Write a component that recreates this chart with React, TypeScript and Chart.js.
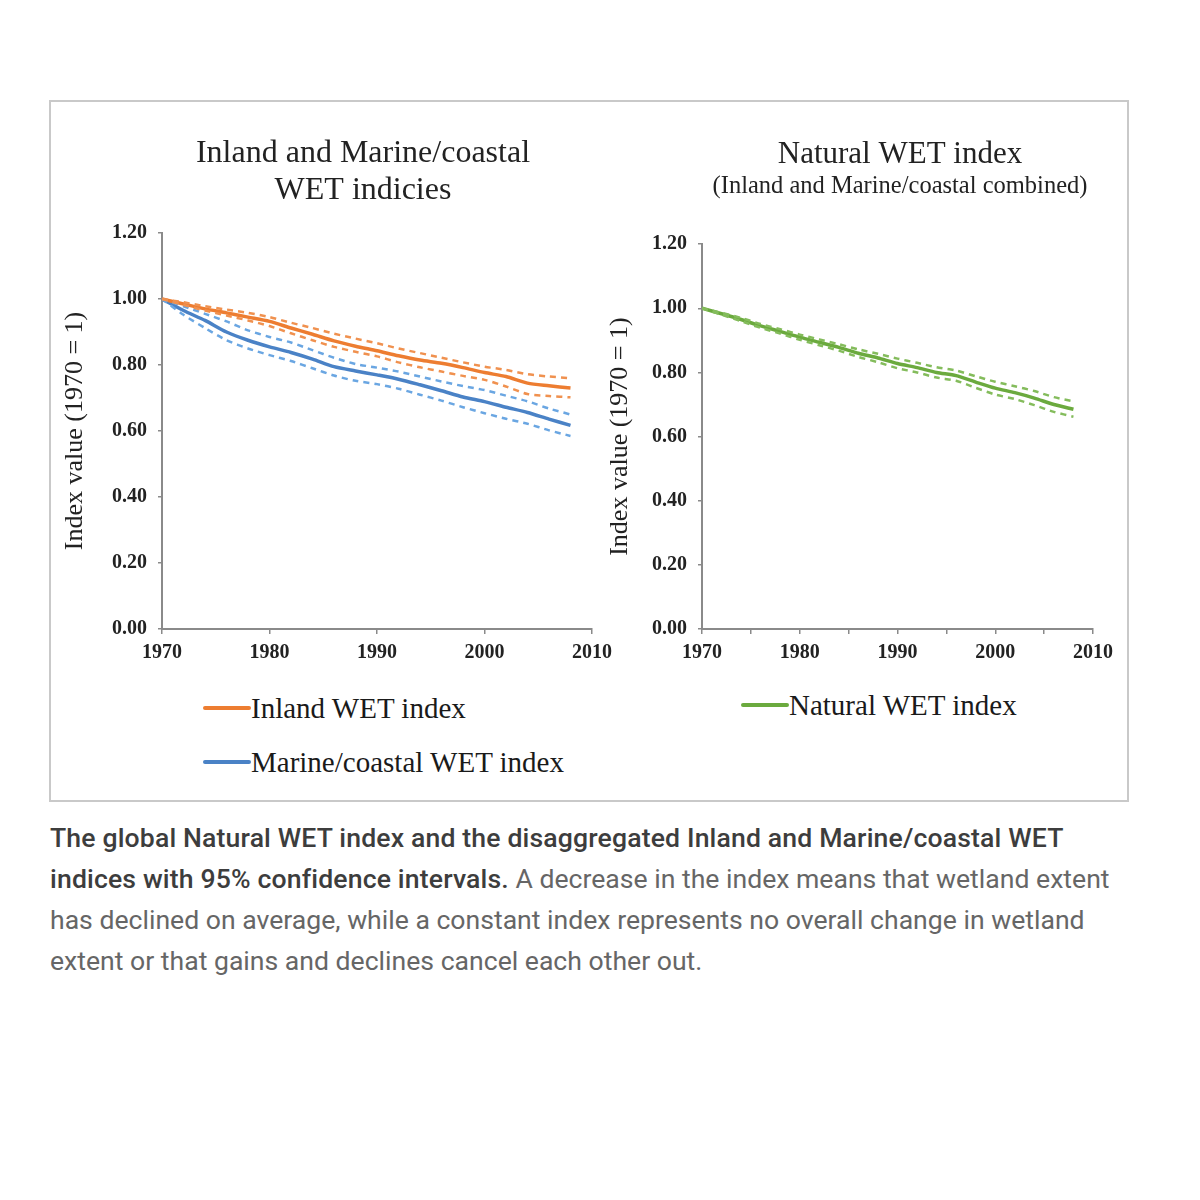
import React, { useEffect, useRef } from 'react';
import { Chart, registerables } from 'chart.js';

Chart.register(...registerables);

// ---- Data ----
const years = [1970, 1972, 1974, 1976, 1978, 1980, 1982, 1984, 1986, 1988, 1990, 1992, 1994, 1996, 1998, 2000, 2002, 2004, 2006, 2008];

const inlandMain = [1.0, 0.985, 0.97, 0.958, 0.945, 0.932, 0.912, 0.893, 0.873, 0.857, 0.843, 0.828, 0.815, 0.805, 0.792, 0.777, 0.765, 0.745, 0.737, 0.73];
const inlandUpper = [1.0, 0.99, 0.978, 0.968, 0.958, 0.945, 0.928, 0.912, 0.895, 0.88, 0.866, 0.85, 0.836, 0.822, 0.808, 0.795, 0.785, 0.772, 0.765, 0.76];
const inlandLower = [1.0, 0.982, 0.965, 0.95, 0.935, 0.918, 0.896, 0.875, 0.855, 0.84, 0.826, 0.808, 0.793, 0.78, 0.767, 0.755, 0.735, 0.712, 0.706, 0.702];

const marineMain = [1.0, 0.965, 0.935, 0.9, 0.875, 0.855, 0.838, 0.818, 0.795, 0.782, 0.77, 0.757, 0.74, 0.722, 0.703, 0.689, 0.672, 0.656, 0.636, 0.617];
const marineUpper = [1.0, 0.978, 0.955, 0.932, 0.905, 0.885, 0.868, 0.845, 0.822, 0.803, 0.792, 0.78, 0.765, 0.75, 0.736, 0.724, 0.707, 0.69, 0.668, 0.65];
const marineLower = [1.0, 0.952, 0.912, 0.875, 0.85, 0.83, 0.812, 0.79, 0.768, 0.752, 0.742, 0.728, 0.71, 0.692, 0.672, 0.654, 0.637, 0.622, 0.602, 0.585];

const naturalMain = [1.0, 0.983, 0.965, 0.945, 0.928, 0.91, 0.894, 0.878, 0.86, 0.845, 0.828, 0.815, 0.8, 0.79, 0.77, 0.751, 0.737, 0.72, 0.7, 0.685];
const naturalUpper = [1.0, 0.986, 0.97, 0.951, 0.935, 0.918, 0.903, 0.888, 0.872, 0.858, 0.843, 0.83, 0.816, 0.806, 0.788, 0.771, 0.757, 0.742, 0.723, 0.71];
const naturalLower = [1.0, 0.98, 0.96, 0.939, 0.921, 0.902, 0.885, 0.868, 0.848, 0.832, 0.813, 0.8, 0.784, 0.774, 0.752, 0.731, 0.717, 0.698, 0.677, 0.662];

const yTicks = [0, 0.2, 0.4, 0.6, 0.8, 1.0, 1.2];
const xTickDecades = [1970, 1980, 1990, 2000, 2010];

const leftTitle = ['Inland and Marine/coastal', 'WET indicies'];
const rightTitle = 'Natural WET index';
const rightSubtitle = '(Inland and Marine/coastal combined)';
const yAxisTitle = 'Index value (1970 = 1)';

const ORANGE = '#ED7D31';
const ORANGE_D = '#F0914F';
const BLUE = '#4A82C6';
const BLUE_D = '#6AA6E2';
const GREEN = '#6BAA3E';
const GREEN_D = '#84BC5C';
const AXIS = '#8a8a8a';
const SERIF = "'Liberation Serif', 'DejaVu Serif', serif";

const toPts = (vals: number[]) => years.map((yr, i) => ({ x: yr, y: vals[i] }));

function line(label: string, vals: number[], color: string, main: boolean) {
  return {
    label,
    data: toPts(vals),
    borderColor: color,
    backgroundColor: color,
    borderWidth: main ? 3.5 : 2.5,
    borderDash: main ? [] : [6, 5],
    pointRadius: 0,
    tension: 0.25,
    fill: false,
    yAxisID: 'y',
  };
}

function scales(minorStep: number, yWidth: number, rightPad: number) {
  return {
    x: {
      type: 'linear',
      min: 1970,
      max: 2010,
      ticks: {
        stepSize: minorStep,
        autoSkip: false,
        maxRotation: 0,
        padding: 7,
        color: '#222',
        font: { family: SERIF, size: 20, weight: 'bold' },
        callback: (v: any) => (xTickDecades.includes(Number(v)) ? String(v) : ''),
      },
      grid: { display: true, drawOnChartArea: false, drawTicks: true, tickLength: 5, color: AXIS, lineWidth: 1.5 },
      border: { display: true, color: AXIS, width: 2 },
      afterFit: (s: any) => { s.height = 36; },
    },
    y: {
      type: 'linear',
      position: 'left',
      min: 0,
      max: 1.2,
      afterBuildTicks: (s: any) => { s.ticks = yTicks.map((v) => ({ value: v })); },
      ticks: {
        padding: 11,
        color: '#222',
        font: { family: SERIF, size: 20, weight: 'bold' },
        callback: (v: any) => Number(v).toFixed(2),
      },
      grid: { display: true, drawOnChartArea: false, drawTicks: true, tickLength: 4, color: AXIS, lineWidth: 1.5 },
      border: { display: true, color: AXIS, width: 2 },
      title: { display: true, text: yAxisTitle, color: '#222', font: { family: SERIF, size: 26 }, padding: { top: 5, bottom: 0 } },
      afterFit: (s: any) => { s.width = yWidth; },
    },
    // invisible spacer axis on the right to reserve room without shrinking the title box
    spacer: {
      type: 'linear',
      position: 'right',
      display: true,
      ticks: { display: false },
      grid: { display: false, drawTicks: false },
      border: { display: false },
      afterFit: (s: any) => { s.width = rightPad; },
    },
  };
}

function ChartPanel({ config, left, top, width, height }: any) {
  const ref = useRef<HTMLCanvasElement | null>(null);
  useEffect(() => {
    if (!ref.current) return;
    const chart = new Chart(ref.current, config);
    return () => chart.destroy();
  }, []);
  return (
    <canvas
      ref={ref}
      width={width}
      height={height}
      style={{ position: 'absolute', left, top, width, height }}
    />
  );
}

const leftConfig: any = {
  type: 'line',
  data: {
    datasets: [
      line('Inland upper', inlandUpper, ORANGE_D, false),
      line('Inland lower', inlandLower, ORANGE_D, false),
      line('Marine upper', marineUpper, BLUE_D, false),
      line('Marine lower', marineLower, BLUE_D, false),
      line('Inland WET index', inlandMain, ORANGE, true),
      line('Marine/coastal WET index', marineMain, BLUE, true),
    ],
  },
  options: {
    animation: false,
    responsive: false,
    layout: { padding: { left: 0, right: 0, top: 10.5, bottom: 0 } },
    plugins: {
      legend: { display: false },
      tooltip: { enabled: false },
      title: {
        display: true,
        text: leftTitle,
        color: '#222',
        font: { family: SERIF, size: 32, weight: 'normal', lineHeight: 1.156 },
        padding: { top: 0, bottom: 23.5 },
      },
    },
    scales: scales(10, 107, 79),
  },
};

const rightConfig: any = {
  type: 'line',
  data: {
    datasets: [
      line('Natural upper', naturalUpper, GREEN_D, false),
      line('Natural lower', naturalLower, GREEN_D, false),
      line('Natural WET index', naturalMain, GREEN, true),
    ],
  },
  options: {
    animation: false,
    responsive: false,
    layout: { padding: { left: 0, right: 0, top: 11, bottom: 0 } },
    plugins: {
      legend: { display: false },
      tooltip: { enabled: false },
      title: {
        display: true,
        text: rightTitle,
        color: '#222',
        font: { family: SERIF, size: 31, weight: 'normal', lineHeight: 1.2 },
        padding: { top: 0, bottom: 0 },
      },
      subtitle: {
        display: true,
        text: rightSubtitle,
        color: '#222',
        font: { family: SERIF, size: 24.5, weight: 'normal', lineHeight: 1.08 },
        padding: { top: 0, bottom: 44.5 },
      },
    },
    scales: scales(5, 102, 107),
  },
};

function LegendItem({ left, top, color, text }: any) {
  return (
    <div style={{ position: 'absolute', left, top, display: 'flex', alignItems: 'center', whiteSpace: 'nowrap' }}>
      <div style={{ width: 48, height: 4, background: color, borderRadius: 2 }} />
      <span style={{ fontFamily: SERIF, fontSize: 29, color: '#1a1a1a', lineHeight: '34px' }}>{text}</span>
    </div>
  );
}

export default function App() {
  return (
    <div style={{ position: 'absolute', left: 0, top: 0, width: 1200, height: 1200, background: '#fff', overflow: 'hidden' }}>
      <div style={{ position: 'absolute', left: 49, top: 100, width: 1076, height: 698, border: '2px solid #c9c9c9', background: '#fff' }} />
      <ChartPanel config={leftConfig} left={55} top={125} width={616} height={540} />
      <ChartPanel config={rightConfig} left={600} top={125} width={600} height={540} />
      <LegendItem left={203} top={691} color={ORANGE} text="Inland WET index" />
      <LegendItem left={203} top={745} color={BLUE} text="Marine/coastal WET index" />
      <LegendItem left={741} top={688} color={GREEN} text="Natural WET index" />
      <div
        style={{
          position: 'absolute',
          left: 50,
          top: 817,
          fontFamily: 'Roboto, sans-serif',
          fontSize: 26.6,
          lineHeight: '41px',
          color: '#666',
          whiteSpace: 'nowrap',
        }}
      >
        <span style={{ fontWeight: 500, color: '#3d3d3d', letterSpacing: 0.15 }}>
          The global Natural WET index and the disaggregated Inland and Marine/coastal WET
          <br />
          indices with 95% confidence intervals.
        </span>{' '}
        A decrease in the index means that wetland extent
        <br />
        has declined on average, while a constant index represents no overall change in wetland
        <br />
        extent or that gains and declines cancel each other out.
      </div>
    </div>
  );
}
